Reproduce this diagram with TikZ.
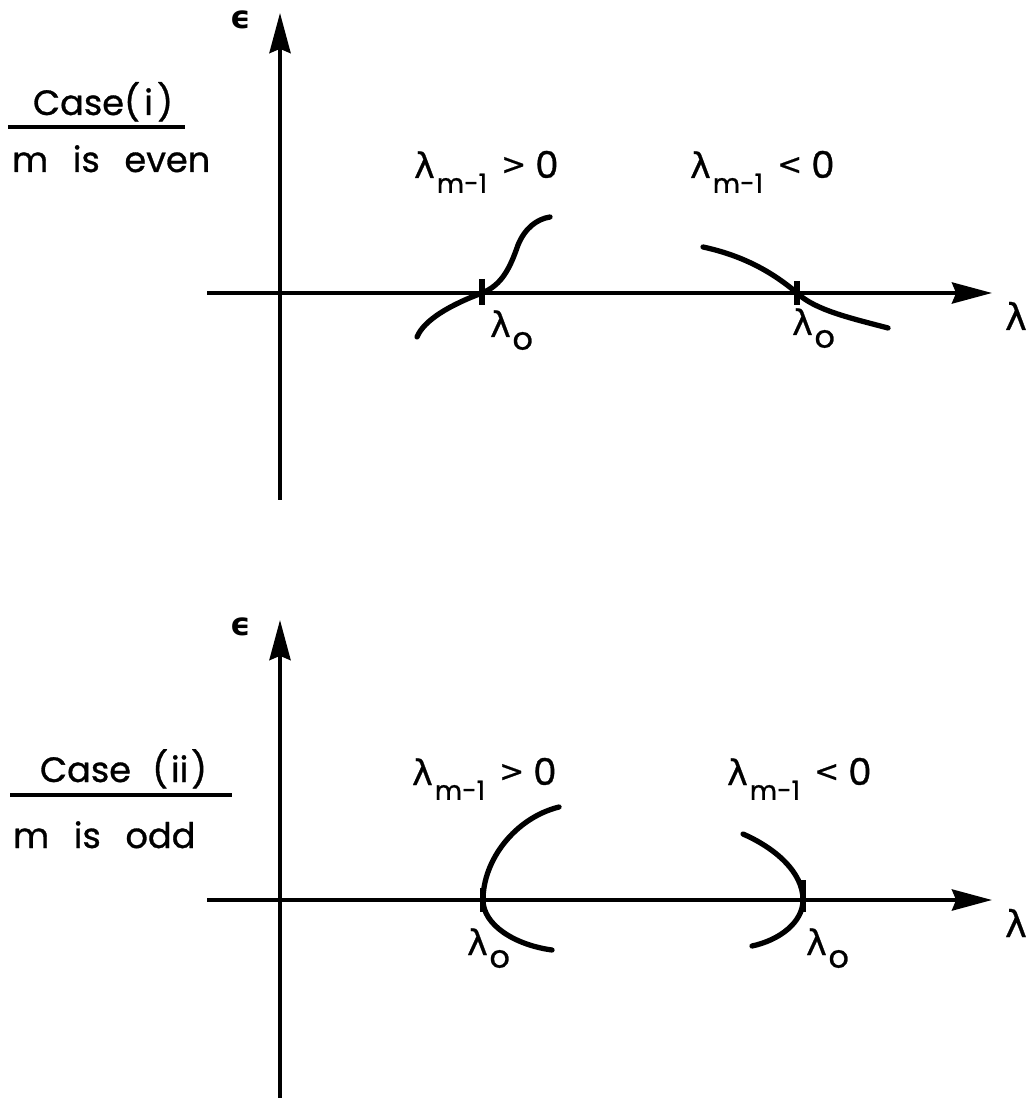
\documentclass[tikz,border=0pt]{standalone}
\usepackage{fontspec}
\setmainfont{Poppins}[FakeBold=0.9]
\newfontfamily\grk{DejaVu Sans}[FakeBold=0.6]
\newfontfamily\grkb{DejaVu Sans Bold}
\usetikzlibrary{arrows.meta}

\tikzset{
  axisline/.style={line width=1.1pt,-{Stealth[length=11.4pt,width=6pt,inset=1.2pt]}},
  branch/.style={line width=1.5pt,line cap=round},
  tickmark/.style={line width=1.5pt},
  rule/.style={line width=0.9pt},
  txt/.style={inner sep=0pt,outer sep=0pt,anchor=base west,font=\fontsize{10}{12}\selectfont},
  glbl/.style={inner sep=0pt,outer sep=0pt,anchor=base west},
}

% lambda_{m-1} followed by a relation and zero
\newcommand{\lamrel}[1]{{\grk\fontsize{10}{12}\selectfont λ}\hspace{0.6pt}%
  \raisebox{-4.2pt}{\fontsize{7.5}{8}\selectfont m-1}\hspace{4pt}%
  \raisebox{1pt}{\grk\fontsize{8.5}{10}\selectfont #1}\hspace{2.6pt}{\fontsize{10.5}{12}\selectfont 0}}
% lambda_o
\newcommand{\lamo}{{\grk\fontsize{10}{12}\selectfont λ}\hspace{0.5pt}%
  \raisebox{-3.6pt}{\fontsize{9}{10}\selectfont o}}

\begin{document}
\begin{tikzpicture}[x=0.01cm,y=-0.01cm]
\useasboundingbox (0,0) rectangle (1027,1098);

% ---------- case (i): m even ----------
\coordinate (eA) at (280,500);
\coordinate (eB) at (280,13);
\coordinate (lA) at (207,293);
\coordinate (lB) at (992,293);
\draw[axisline] (eA) -- (eB);
\draw[axisline] (lA) -- (lB);
\node[glbl,anchor=center,font=\grkb\fontsize{9}{10}\selectfont] (eps1) at (241,20) {ϵ};
\node[glbl,font=\grk\fontsize{10.5}{12}\selectfont] (lam1) at (1005,330) {λ};

\node[txt] (case1) at (33,115) {Case(\hspace{1.2pt}i\hspace{1.2pt})};
\coordinate (u1a) at (8,127);
\coordinate (u1b) at (185,127);
\draw[rule] (u1a) -- (u1b);
\node[txt] (even) at (12,172) {m\hspace{7pt}is\hspace{7pt}even};

\node[glbl] (pos1) at (414,178) {\lamrel{>}};
\node[glbl] (neg1) at (690,178) {\lamrel{<}};

% crossing branches
\draw[branch] (417,337) .. controls (424,320) and (450,305) .. (482,293)
  .. controls (502,285) and (510,268) .. (518,245)
  .. controls (525,228) and (537,219) .. (550,217);
\draw[branch] (703,247) .. controls (740,255) and (770,270) .. (797,293)
  .. controls (815,310) and (850,318) .. (888,328);
\draw[tickmark] (482,279) -- (482,305);
\draw[tickmark] (797,281) -- (797,305);
\node[glbl] (l0a) at (490,337) {\lamo};
\node[glbl] (l0b) at (792,335) {\lamo};

% ---------- case (ii): m odd ----------
\coordinate (fA) at (280,1098);
\coordinate (fB) at (280,620);
\coordinate (mA) at (207,900);
\coordinate (mB) at (992,900);
\draw[axisline] (fA) -- (fB);
\draw[axisline] (mA) -- (mB);
\node[glbl,anchor=center,font=\grkb\fontsize{9}{10}\selectfont] (eps2) at (241,627) {ϵ};
\node[glbl,font=\grk\fontsize{10.5}{12}\selectfont] (lam2) at (1005,937) {λ};

\node[txt] (case2) at (40,782) {Case\hspace{6pt}(\hspace{0.8pt}ii\hspace{0.8pt})};
\coordinate (u2a) at (10,795);
\coordinate (u2b) at (232,795);
\draw[rule] (u2a) -- (u2b);
\node[txt] (odd) at (13,848) {m\hspace{7pt}is\hspace{7pt}odd};

\node[glbl] (pos2) at (412,785) {\lamrel{>}};
\node[glbl] (neg2) at (727,785) {\lamrel{<}};

% turning branches
\draw[branch] (559,807) .. controls (515,818) and (483,860) .. (483,900)
  .. controls (483,925) and (515,945) .. (552,950);
\draw[branch] (743,834) .. controls (775,848) and (803,872) .. (803,900)
  .. controls (803,922) and (780,940) .. (752,946);
\draw[tickmark] (483,888) -- (483,912);
\draw[tickmark] (803,880) -- (803,912);
\node[glbl] (l0c) at (467,955) {\lamo};
\node[glbl] (l0d) at (806,955) {\lamo};
\end{tikzpicture}
\end{document}
